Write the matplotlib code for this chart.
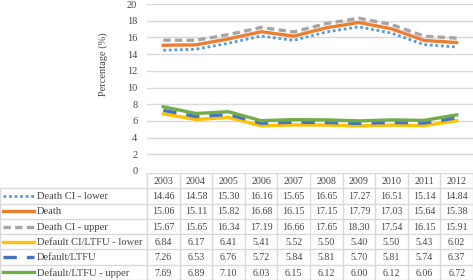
import numpy as np
import matplotlib.pyplot as plt

years = ['2003', '2004', '2005', '2006', '2007', '2008', '2009', '2010', '2011', '2012']
series_names = ['Death CI - lower', 'Death', 'Death CI - upper',
                'Default CI/LTFU - lower', 'Default/LTFU', 'Default/LTFU - upper']
death_lo = [14.46, 14.58, 15.30, 16.16, 15.65, 16.65, 17.27, 16.51, 15.14, 14.84]
death = [15.06, 15.11, 15.82, 16.68, 16.15, 17.15, 17.79, 17.03, 15.64, 15.38]
death_hi = [15.67, 15.65, 16.34, 17.19, 16.66, 17.65, 18.30, 17.54, 16.15, 15.91]
default_lo = [6.84, 6.17, 6.41, 5.41, 5.52, 5.50, 5.40, 5.50, 5.43, 6.02]
default = [7.26, 6.53, 6.76, 5.72, 5.84, 5.81, 5.70, 5.81, 5.74, 6.37]
default_hi = [7.69, 6.89, 7.10, 6.03, 6.15, 6.12, 6.00, 6.12, 6.06, 6.72]

values = [death_lo, death, death_hi, default_lo, default, default_hi]
colors = ['#5b9bd5', '#ed7d31', '#a5a5a5', '#ffc000', '#4472c4', '#70ad47']
styles = [(0, (1, 1)), '-', (0, (2.2, 1.3)), '-', (0, (4, 3)), '-']
widths = [2.0, 2.4, 2.4, 2.4, 2.4, 2.4]

plt.rcParams['font.family'] = ['Liberation Serif', 'DejaVu Serif']
txt = '#454545'
grid_c = '#d9d9d9'

W, H = 473, 280
fig = plt.figure(figsize=(W / 100, H / 100), dpi=100)

# plot area in pixels
x0, x1 = 147, 473
y_top, y_bot = 4, 171
ax = fig.add_axes([x0 / W, 1 - y_bot / H, (x1 - x0) / W, (y_bot - y_top) / H])
x = np.arange(len(years))
for v, c, s, w in zip(values, colors, styles, widths):
    ax.plot(x, v, color=c, linestyle=s, linewidth=w)
ax.set_xlim(-0.5, len(years) - 0.5)
ax.set_ylim(0, 20)
ax.set_yticks(range(0, 21, 2))
ax.set_xticks([])
ax.grid(axis='y', color=grid_c, linewidth=1)
ax.set_axisbelow(True)
for sp in ax.spines.values():
    sp.set_visible(False)
ax.tick_params(axis='y', length=0, labelsize=7.5, labelcolor=txt, pad=7)
ax.set_ylabel('Percentage (%)', fontsize=7.5, color=txt)
ax.yaxis.set_label_coords(-39 / (x1 - x0), 0.64)

# data table
t_top = 173
tab = fig.add_axes([0, 0, 1, (H - t_top) / H])
col_w = (x1 - x0) / len(years)
label_w = x0 / col_w
tab.set_xlim(-0.5 - label_w, len(years) - 0.5)
tab.set_ylim(len(series_names) + 0.5, -0.5)
tab.axis('off')
left = -0.5 - label_w
right = len(years) - 0.5
bottom = len(series_names) + 0.5

tab.plot([-0.5, right], [-0.5, -0.5], color=grid_c, lw=1)
for r in range(len(series_names) + 1):
    tab.plot([left, right], [r + 0.5, r + 0.5], color=grid_c, lw=1)
for c in range(len(years) + 1):
    tab.plot([c - 0.5, c - 0.5], [-0.5, bottom], color=grid_c, lw=1)
tab.plot([left, left], [0.5, bottom], color=grid_c, lw=1)

for i, yr in enumerate(years):
    tab.text(i, 0.05, yr, ha='center', va='center', fontsize=7.2, color=txt)

key_x0 = left + 3 / col_w
key_x1 = left + 34 / col_w
for r, (name, v, c, s, w) in enumerate(zip(series_names, values, colors, styles, widths), start=1):
    tab.plot([key_x0, key_x1], [r, r], color=c, linestyle=s, linewidth=w)
    tab.text(left + 37 / col_w, r + 0.05, name, ha='left', va='center', fontsize=7.6, color=txt)
    for i, val in enumerate(v):
        tab.text(i, r + 0.05, f'{val:.2f}', ha='center', va='center', fontsize=7.2, color=txt)

fig.savefig('out.png', dpi=100)
